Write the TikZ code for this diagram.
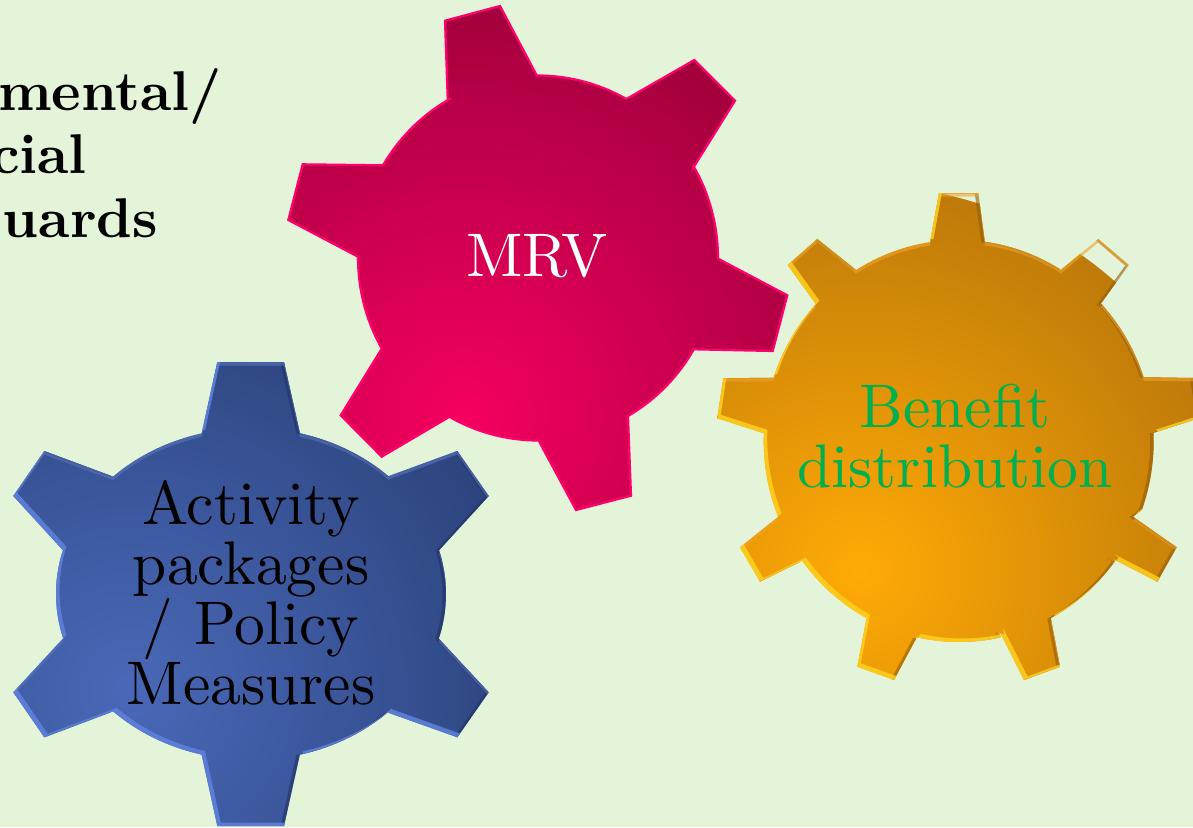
\documentclass[tikz,border=0pt]{standalone}
\usepackage{fontspec}
\setmainfont{lmroman10-regular}[Extension=.otf,BoldFont=lmroman10-bold]
\begin{document}
\newcommand{\earc}[6]{-- plot[domain=#5:#6,samples=16] ({#1+#3*cos(\x)},{#2+#4*sin(\x)})}
\newcommand{\mrvPath}{(447.7,99.3) -- (445,20.7) -- (500,6) -- (536.7,75.3)
 \earc{538}{258}{180}{182.5}{-90.4}{-60.6} -- (694.3,60) -- (735,100.7) -- (693.3,167.7)
 \earc{538}{258}{180}{182.5}{-30.2}{0.2} -- (787.3,295.3) -- (772.7,351) -- (693.3,349.3)
 \earc{538}{258}{180}{182.5}{30.4}{60} -- (631,495.7) -- (576,510) -- (538.7,440.7)
 \earc{538}{258}{180}{182.5}{89.8}{119.5} -- (381.7,456.7) -- (340.7,415.3) -- (381.7,348.7)
 \earc{538}{258}{180}{182.5}{150}{180.4} -- (288.3,220) -- (302.7,164.3) -- (381.7,165.3)
 \earc{538}{258}{180}{182.5}{210.7}{240.4} -- cycle}
\newcommand{\bluePath}{(201.7,433.3) -- (217.3,362) -- (284,362) -- (300,433.3)
 \earc{251}{594}{195}{166}{-75.4}{-45.2} -- (457.3,451) -- (488.7,496) -- (439.3,550)
 \earc{251}{594}{195}{166}{-15.3}{15.6} -- (488.7,692.3) -- (457.3,737.3) -- (388.3,712.7)
 \earc{251}{594}{195}{166}{45.2}{75.5} -- (284,826) -- (217.3,826) -- (201.7,755)
 \earc{251}{594}{195}{166}{104.5}{135} -- (44.3,737.3) -- (13.3,692.3) -- (62.3,639.3)
 \earc{251}{594}{195}{166}{164.4}{195.3} -- (13.3,496) -- (44.3,451) -- (113.3,476.7)
 \earc{251}{594}{195}{166}{225}{255.4} -- cycle}
\newcommand{\orangePath}{(930,242.3) -- (939,193) -- (978.3,193) -- (985,243)
 \earc{958.7}{441}{195}{201}{-82.3}{-58.4} -- (1098.3,239) -- (1128.7,265) -- (1098.3,307.3)
 \earc{958.7}{441}{195}{201}{-42.9}{-18.5} -- (1193.7,378) -- (1199.5,418) -- (1152,433.3)
 \earc{958.7}{441}{195}{201}{-2.2}{20} -- (1133,516.7) -- (1176.7,547.3) -- (1157.3,581.7) -- (1110.7,557.7)
 \earc{958.7}{441}{195}{201}{36.6}{61.8} -- (1060,666.7) -- (1024,680) -- (999.3,631)
 \earc{958.7}{441}{195}{201}{77.6}{102.4} -- (894,680) -- (857.3,666.7) -- (866.7,617.7)
 \earc{958.7}{441}{195}{201}{118.2}{143.4} -- (760,581.7) -- (740,547.3) -- (778.3,516.7)
 \earc{958.7}{441}{195}{201}{157.8}{182.2} -- (717.3,418.3) -- (723.3,378.3) -- (774,377.7)
 \earc{958.7}{441}{195}{201}{198.5}{222.9} -- (787.7,265) -- (817.3,239) -- (856,270)
 \earc{958.7}{441}{195}{201}{238}{261.5} -- cycle}
\definecolor{bgcol}{RGB}{228,244,216}
\definecolor{mrvedge}{RGB}{255,0,110}
\definecolor{textgreen}{RGB}{0,176,80}
\definecolor{mrvin}{RGB}{245,0,95}\definecolor{mrvout}{RGB}{160,0,60}
\definecolor{bluein}{RGB}{74,104,184}\definecolor{blueout}{RGB}{42,66,122}
\definecolor{orangein}{RGB}{255,170,5}\definecolor{orangeout}{RGB}{190,122,10}
\definecolor{bluelight}{RGB}{95,130,222}\definecolor{bluetop}{RGB}{88,118,190}\definecolor{bluedark}{RGB}{32,50,100}
\definecolor{orangelight}{RGB}{255,208,30}\definecolor{orangetop}{RGB}{238,165,40}\definecolor{orangedark}{RGB}{145,92,10}
\newcommand{\bevel}[4]{%
 \begin{scope}[shift={(-3.5,0.5)}]
   \fill[#3,even odd rule,opacity=.6] (-50,-50) rectangle (1300,900) #1;
 \end{scope}
 \begin{scope}[shift={(0,3.5)}]
   \fill[#2,even odd rule,opacity=.6] (-50,-50) rectangle (1300,900) #1;
 \end{scope}
 \begin{scope}[shift={(3.5,-3.5)}]
   \fill[#4,even odd rule,opacity=.85] (-50,-50) rectangle (1300,900) #1;
 \end{scope}}
\begin{tikzpicture}[x=1pt,y=-1pt,
  biglabel/.style={align=center,font=\fontsize{61.6}{60}\selectfont,inner sep=0pt},
  sidelabel/.style={anchor=base east,font=\fontsize{56}{60}\selectfont\bfseries,inner sep=0pt,text=black}]
\useasboundingbox (0,0) rectangle (1193,827);
\fill[bgcol] (0,0) rectangle (1193,827);
% MRV gear
\begin{scope}
 \clip \mrvPath;
 \shade[inner color=mrvin,outer color=mrvout] (465,415) circle (430);
\end{scope}
\draw[mrvedge,line width=2.2pt,line join=miter] \mrvPath;
% Blue gear
\begin{scope}
 \clip \bluePath;
 \shade[inner color=bluein,outer color=blueout] (130,690) circle (430);
 \bevel{\bluePath}{bluetop}{bluedark}{bluelight}
\end{scope}
% Orange gear
\begin{scope}
 \clip \orangePath;
 \shade[inner color=orangein,outer color=orangeout] (860,570) circle (385);
 \bevel{\orangePath}{orangetop}{orangedark}{orangelight}
\end{scope}
% Labels
\node[biglabel,text=white] (mrv) at (537,256) {MRV};
\node[biglabel,text=black] (act) at (251,593) {Activity\\packages\\/ Policy\\Measures};
\node[biglabel,text=textgreen] (ben) at (955,436) {Benefit\\distribution};
\node[sidelabel] (s1) at (222,110) {nmental/};
\node[sidelabel] (s2) at (87,173) {cial};
\node[sidelabel] (s3) at (158,237) {uards};
\end{tikzpicture}
\end{document}
